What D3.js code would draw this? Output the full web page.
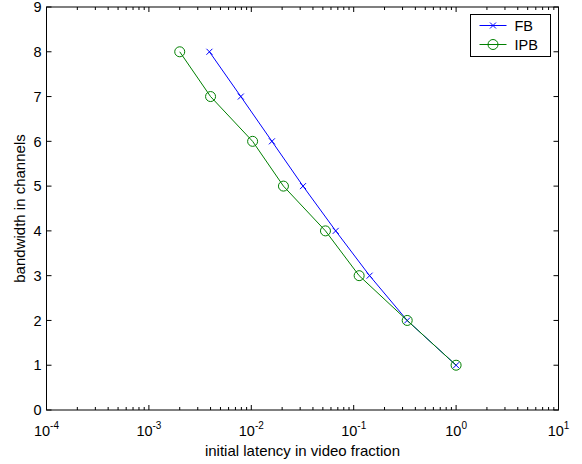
<!DOCTYPE html>
<html>
<head>
<meta charset="utf-8">
<script src="https://cdn.jsdelivr.net/npm/d3@7"></script>
<style>
body { margin: 0; background: #fff; }
text { font-family: "Liberation Sans", Arial, sans-serif; }
</style>
</head>
<body>
<svg id="chart" width="582" height="464"></svg>
<script>
// bandwidth (channels) vs initial latency (fraction of video)
var channels = [8, 7, 6, 5, 4, 3, 2, 1];
var fbLatency = [0.0039, 0.0079, 0.0159, 0.032, 0.0667, 0.143, 0.333, 1];
var ipbLatency = [0.002, 0.004, 0.0103, 0.0206, 0.053, 0.113, 0.333, 1];
var xTicks = [1e-4, 1e-3, 1e-2, 1e-1, 1, 10];
var yTicks = [0, 1, 2, 3, 4, 5, 6, 7, 8, 9];
var seriesNames = ["FB", "IPB"];

drawChart();

function drawChart() {
    var svg = d3.select("#chart");
    var margin = { top: 7, right: 23.5, bottom: 54, left: 46.5 };
    var width = 582 - margin.left - margin.right;
    var height = 464 - margin.top - margin.bottom;

    var g = svg.append("g")
        .attr("transform", "translate(" + margin.left + "," + margin.top + ")");

    var x = d3.scaleLog().domain([1e-4, 10]).range([0, width]);
    var y = d3.scaleLinear().domain([0, 9]).range([height, 0]);

    // minor ticks for log axis
    var minor = [];
    for (var e = -4; e < 1; e++) {
        for (var m = 2; m < 10; m++) minor.push(m * Math.pow(10, e));
    }

    // axes box
    g.append("rect")
        .attr("width", width)
        .attr("height", height)
        .attr("fill", "none")
        .attr("stroke", "#000")
        .attr("stroke-width", 1);

    // x ticks (inward, bottom and top)
    [height, 0].forEach(function (yy) {
        var dir = yy === 0 ? 1 : -1;
        g.append("g").selectAll("line.maj")
            .data(xTicks).enter().append("line")
            .attr("x1", function (d) { return x(d); })
            .attr("x2", function (d) { return x(d); })
            .attr("y1", yy).attr("y2", yy + dir * 5)
            .attr("stroke", "#000");
        g.append("g").selectAll("line.min")
            .data(minor).enter().append("line")
            .attr("x1", function (d) { return x(d); })
            .attr("x2", function (d) { return x(d); })
            .attr("y1", yy).attr("y2", yy + dir * 3)
            .attr("stroke", "#000");
    });

    // y ticks (inward, left and right)
    [0, width].forEach(function (xx) {
        var dir = xx === 0 ? 1 : -1;
        g.append("g").selectAll("line")
            .data(yTicks).enter().append("line")
            .attr("y1", function (d) { return y(d); })
            .attr("y2", function (d) { return y(d); })
            .attr("x1", xx).attr("x2", xx + dir * 5)
            .attr("stroke", "#000");
    });

    // y tick labels
    g.append("g").selectAll("text")
        .data(yTicks).enter().append("text")
        .attr("x", -5)
        .attr("y", function (d) { return y(d); })
        .attr("dy", "0.36em")
        .attr("text-anchor", "end")
        .attr("font-size", "14.5px")
        .text(function (d) { return d; });

    // x tick labels 10^n
    var xl = g.append("g").selectAll("text")
        .data(xTicks).enter().append("text")
        .attr("x", function (d) { return x(d); })
        .attr("y", height + 26)
        .attr("text-anchor", "middle")
        .attr("font-size", "14.5px");
    xl.append("tspan").text("10");
    xl.append("tspan")
        .attr("dy", "-7")
        .attr("font-size", "10px")
        .text(function (d) { return Math.round(Math.log10(d)); });

    // axis labels
    g.append("text")
        .attr("x", width / 2)
        .attr("y", height + 46)
        .attr("text-anchor", "middle")
        .attr("font-size", "15px")
        .text("initial latency in video fraction");

    g.append("text")
        .attr("transform", "rotate(-90)")
        .attr("x", -height / 2)
        .attr("y", -22)
        .attr("text-anchor", "middle")
        .attr("font-size", "15px")
        .text("bandwidth in channels");

    var fbData = channels.map(function (c, i) { return { x: fbLatency[i], y: c }; });
    var ipbData = channels.map(function (c, i) { return { x: ipbLatency[i], y: c }; });

    var line = d3.line()
        .x(function (d) { return x(d.x); })
        .y(function (d) { return y(d.y); });

    var blue = "#0000ff", green = "#008000";

    g.append("path").datum(fbData)
        .attr("fill", "none").attr("stroke", blue).attr("stroke-width", 1)
        .attr("d", line);
    g.append("g").selectAll("path")
        .data(fbData).enter().append("path")
        .attr("transform", function (d) { return "translate(" + x(d.x) + "," + y(d.y) + ")"; })
        .attr("d", "M-3,-3L3,3M-3,3L3,-3")
        .attr("stroke", blue).attr("stroke-width", 1);

    g.append("path").datum(ipbData)
        .attr("fill", "none").attr("stroke", green).attr("stroke-width", 1)
        .attr("d", line);
    g.append("g").selectAll("circle")
        .data(ipbData).enter().append("circle")
        .attr("cx", function (d) { return x(d.x); })
        .attr("cy", function (d) { return y(d.y); })
        .attr("r", 5)
        .attr("fill", "none").attr("stroke", green).attr("stroke-width", 1);

    // legend
    var leg = svg.append("g").attr("transform", "translate(470.5,14.5)");
    leg.append("rect")
        .attr("width", 80).attr("height", 42)
        .attr("fill", "#fff").attr("stroke", "#000").attr("stroke-width", 1);
    var colors = [blue, green];
    seriesNames.forEach(function (name, i) {
        var ly = 11 + i * 19;
        leg.append("line")
            .attr("x1", 9).attr("x2", 36).attr("y1", ly).attr("y2", ly)
            .attr("stroke", colors[i]);
        if (i === 0) {
            leg.append("path")
                .attr("transform", "translate(22.5," + ly + ")")
                .attr("d", "M-3,-3L3,3M-3,3L3,-3")
                .attr("stroke", blue);
        } else {
            leg.append("circle")
                .attr("cx", 22.5).attr("cy", ly).attr("r", 5)
                .attr("fill", "none").attr("stroke", green);
        }
        leg.append("text")
            .attr("x", 44).attr("y", ly).attr("dy", "0.36em")
            .attr("font-size", "14.5px")
            .text(name);
    });
}
</script>
</body>
</html>
